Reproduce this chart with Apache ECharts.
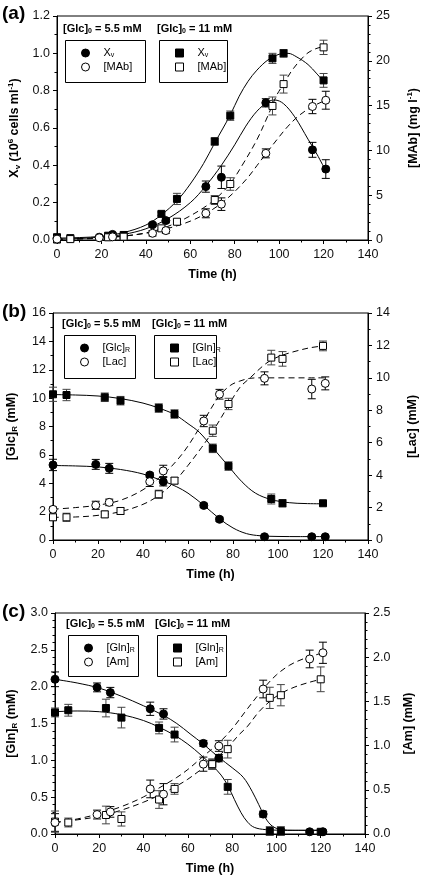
<!DOCTYPE html>
<html><head><meta charset="utf-8">
<script src="https://cdn.jsdelivr.net/npm/echarts/dist/echarts.min.js"></script>
<style>html,body{margin:0;padding:0;background:#fff}#c{width:422px;height:878px}</style>
</head><body><div id="c"></div>
<script>
// ---------- Panel (a) ----------
const tA55 = [0, 19, 25, 43, 49, 67, 74, 94, 115, 121];
const tA11 = [0, 6, 23, 30, 47, 54, 71, 78, 97, 102, 120];
const xv55 = [0.01, 0.015, 0.03, 0.082, 0.104, 0.286, 0.336, 0.735, 0.483, 0.38];
const xv55Err = [0.005, 0.005, 0.008, 0.01, 0.012, 0.03, 0.06, 0.022, 0.04, 0.05];
const xv11 = [0.015, 0.01, 0.023, 0.027, 0.14, 0.22, 0.528, 0.666, 0.973, 1.0, 0.855];
const xv11Err = [0.005, 0.005, 0.008, 0.008, 0.01, 0.03, 0.02, 0.025, 0.027, 0.02, 0.037];
const mab55 = [0.1, 0.25, 0.35, 0.75, 1.05, 2.98, 4.0, 9.67, 14.9, 15.6];
const mab55Err = [0.1, 0.2, 0.2, 0.3, 0.3, 0.5, 0.7, 0.5, 0.8, 1.0];
const mab11 = [0.05, 0.1, 0.3, 0.37, 1.3, 2.04, 4.46, 6.25, 14.96, 17.4, 21.5];
const mab11Err = [0.1, 0.1, 0.2, 0.2, 0.3, 0.3, 0.5, 0.7, 1.0, 1.0, 0.8];
const fitXv55 = [[0,0.005],[10,0.008],[20,0.016],[30,0.03],[40,0.06],[50,0.115],[60,0.2],[67,0.29],[74,0.4],[80,0.51],[85,0.61],[90,0.69],[95,0.74],[98,0.75],[102,0.73],[107,0.66],[113,0.54],[117,0.46],[121,0.37]];
const fitXv11 = [[0,0.01],[10,0.013],[20,0.02],[30,0.04],[40,0.08],[47,0.135],[54,0.21],[60,0.3],[66,0.41],[71,0.52],[78,0.67],[82,0.77],[86,0.85],[90,0.91],[95,0.965],[100,0.995],[104,1.0],[108,0.98],[113,0.94],[117,0.89],[120,0.85]];
const fitMab55 = [[0,0.1],[10,0.15],[20,0.27],[30,0.45],[40,0.75],[50,1.3],[60,2.1],[67,2.95],[74,4.1],[80,5.4],[86,7.0],[90,8.3],[94,9.6],[99,11.2],[104,12.7],[109,13.9],[115,14.9],[121,15.6]];
const fitMab11 = [[0,0.05],[10,0.1],[20,0.22],[30,0.42],[40,0.8],[47,1.25],[54,1.95],[60,2.7],[66,3.6],[71,4.5],[78,6.3],[84,8.6],[90,11.2],[95,13.9],[99,16.2],[102,17.4],[106,19.0],[112,20.7],[116,21.3],[120,21.6]];

// ---------- Panel (b) ----------
const tB55 = [0, 19, 25, 43, 49, 67, 74, 94, 115, 121];
const tB11 = [0, 6, 23, 30, 47, 54, 71, 78, 97, 102, 120];
const glc55 = [5.29, 5.33, 5.05, 4.58, 4.11, 2.44, 1.46, 0.23, 0.23, 0.23];
const glc55Err = [0.4, 0.35, 0.35, 0.15, 0.3, 0.15, 0.15, 0.1, 0.1, 0.1];
const glnB11 = [10.27, 10.22, 10.06, 9.82, 9.3, 8.88, 6.46, 5.21, 2.89, 2.59, 2.59];
const glnB11Err = [0.5, 0.4, 0.3, 0.3, 0.3, 0.3, 0.3, 0.3, 0.35, 0.25, 0.15];
const lac55 = [1.89, 2.14, 2.32, 3.6, 4.26, 7.34, 8.99, 9.97, 9.31, 9.66];
const lac55Err = [0.15, 0.25, 0.2, 0.3, 0.35, 0.35, 0.3, 0.4, 0.6, 0.4];
const lac11 = [1.4, 1.4, 1.58, 1.79, 2.82, 3.66, 6.74, 8.39, 11.25, 11.17, 11.97];
const lac11Err = [0.2, 0.25, 0.2, 0.2, 0.25, 0.2, 0.35, 0.35, 0.45, 0.45, 0.3];
const fitGlc55 = [[0,5.25],[10,5.22],[20,5.15],[30,4.97],[40,4.65],[49,4.15],[55,3.75],[60,3.3],[67,2.45],[74,1.5],[80,0.85],[86,0.45],[92,0.3],[100,0.25],[110,0.24],[121,0.24]];
const fitGlnB11 = [[0,10.25],[10,10.22],[20,10.15],[30,9.97],[40,9.65],[47,9.3],[54,8.85],[60,8.2],[65,7.6],[71,6.5],[78,5.2],[84,4.1],[90,3.3],[97,2.85],[105,2.63],[112,2.57],[120,2.55]];
const fitLac55 = [[0,1.9],[10,2.0],[20,2.15],[30,2.45],[40,3.1],[49,4.05],[55,4.9],[60,5.8],[67,7.35],[74,8.9],[79,9.55],[83,9.8],[87.5,9.97],[92,10.0],[121,10.0]];
const fitLac11 = [[0,1.4],[10,1.42],[20,1.52],[30,1.75],[40,2.2],[47,2.75],[54,3.6],[60,4.6],[66,5.7],[71,6.7],[78,8.3],[83,9.4],[88,10.05],[93,10.7],[97,11.1],[102,11.4],[108,11.65],[114,11.85],[120,11.97]];

// ---------- Panel (c) ----------
const tC55 = [0, 19, 25, 43, 49, 67, 74, 94, 115, 121];
const tC11 = [0, 6, 23, 30, 47, 54, 71, 78, 97, 102, 120];
const gln55 = [2.10, 1.99, 1.92, 1.70, 1.63, 1.23, 1.03, 0.27, 0.03, 0.03];
const gln55Err = [0.1, 0.06, 0.07, 0.09, 0.07, 0.04, 0.05, 0.04, 0.02, 0.02];
const glnC11 = [1.65, 1.68, 1.71, 1.58, 1.44, 1.35, 0.95, 0.64, 0.04, 0.04, 0.03];
const glnC11Err = [0.06, 0.08, 0.12, 0.14, 0.08, 0.1, 0.06, 0.1, 0.06, 0.06, 0.03];
const am55 = [0.13, 0.22, 0.25, 0.51, 0.45, 0.79, 0.995, 1.64, 1.98, 2.05];
const am55Err = [0.1, 0.05, 0.06, 0.1, 0.12, 0.08, 0.06, 0.1, 0.1, 0.12];
const am11 = [0.14, 0.13, 0.215, 0.17, 0.39, 0.51, 0.79, 0.96, 1.54, 1.57, 1.75];
const am11Err = [0.12, 0.05, 0.1, 0.08, 0.1, 0.06, 0.06, 0.1, 0.12, 0.12, 0.14];
const fitGln55 = [[0,2.1],[10,2.05],[20,1.98],[30,1.87],[40,1.74],[49,1.61],[55,1.5],[61,1.36],[67,1.22],[74,1.04],[80,0.9],[85,0.77],[89,0.58],[92,0.4],[95,0.22],[98,0.11],[102,0.06],[108,0.05],[121,0.05]];
const fitGlnC11 = [[0,1.66],[10,1.67],[20,1.66],[30,1.62],[40,1.54],[47,1.45],[54,1.34],[60,1.22],[66,1.07],[71,0.93],[75,0.8],[78,0.66],[81,0.47],[84,0.29],[87,0.16],[90,0.09],[95,0.06],[105,0.05],[121,0.05]];
const fitAm55 = [[0,0.13],[10,0.17],[20,0.23],[30,0.31],[40,0.42],[49,0.55],[55,0.64],[60,0.73],[67,0.88],[74,1.03],[80,1.19],[87,1.42],[94,1.64],[100,1.8],[106,1.91],[112,1.98],[117,2.02],[121,2.05]];
const fitAm11 = [[0,0.13],[10,0.16],[20,0.2],[30,0.27],[40,0.36],[47,0.44],[54,0.53],[60,0.62],[66,0.73],[71,0.82],[78,0.98],[83,1.12],[87,1.22],[92,1.38],[97,1.5],[102,1.59],[108,1.66],[114,1.71],[120,1.75]];

// ---------- Tick settings ----------
const xTicks = {min: 0, max: 140, interval: 20};
const yTicks = [
  {min: 0, max: 1.2, interval: 0.2, minor: 2, dec: 1},
  {min: 0, max: 25, interval: 5, minor: 5, dec: 0},
  {min: 0, max: 16, interval: 2, minor: 2, dec: 0},
  {min: 0, max: 14, interval: 2, minor: 2, dec: 0},
  {min: 0, max: 3, interval: 0.5, minor: 5, dec: 1},
  {min: 0, max: 2.5, interval: 0.5, minor: 5, dec: 1}
];

const FF = "'Liberation Sans', Arial, Helvetica, sans-serif";
const rich = {
  b: {fontWeight: 'bold', fontSize: 12.5, fontFamily: FF, color: '#000'},
  bs: {fontWeight: 'bold', fontSize: 8, fontFamily: FF, color: '#000', padding: [6, 0, 0, 0]},
  bp: {fontWeight: 'bold', fontSize: 8, fontFamily: FF, color: '#000', padding: [0, 0, 7, 0]},
  p: {width: 9, fontSize: 11, fontFamily: FF},
  n: {fontSize: 11, fontFamily: FF, color: '#000'},
  ns: {fontSize: 7, fontFamily: FF, color: '#000', padding: [5, 0, 0, 0]},
  t: {fontWeight: 'bold', fontSize: 11, fontFamily: FF, color: '#000'},
  ts: {fontWeight: 'bold', fontSize: 7, fontFamily: FF, color: '#000', padding: [5, 0, 0, 0]}
};

const yNames = [
  '{b|X}{bs|v}{b| (10}{bp|6}{b| cells ml}{bp|-1}{b|)}',
  '{b|[MAb] (mg l}{bp|-1}{b|)}',
  '{b|[Glc]}{bs|R}{b| (mM)}',
  '{b|[Lac] (mM)}',
  '{b|[Gln]}{bs|R}{b| (mM)}',
  '{b|[Am] (mM)}'
];

const grids = [
  {left: 57, top: 16, width: 311, height: 224},
  {left: 53, top: 313, width: 315, height: 227},
  {left: 55, top: 613, width: 310, height: 221}
];
const leftGap = [33, 34, 36];
const rightGap = [38, 38, 37];

const option = {
  animation: false,
  backgroundColor: '#fff',
  textStyle: {fontFamily: FF},
  grid: grids.map(g => Object.assign({show: true, borderColor: '#000', borderWidth: 1, containLabel: false, outerBoundsMode: 'none'}, g)),
  xAxis: [0, 1, 2].map(i => ({
    type: 'value', gridIndex: i, min: xTicks.min, max: xTicks.max, interval: xTicks.interval,
    name: 'Time (h)', nameLocation: 'middle', nameGap: 28,
    nameTextStyle: {fontWeight: 'bold', fontSize: 12.5, color: '#000', fontFamily: FF},
    axisLine: {onZero: false, lineStyle: {color: '#000', width: 1}},
    axisTick: {show: true, length: 4, lineStyle: {color: '#000'}},
    minorTick: {show: true, splitNumber: 2, length: 2.5, lineStyle: {color: '#000'}},
    axisLabel: {fontSize: 12.5, color: '#111', margin: 8, fontFamily: FF},
    splitLine: {show: false}
  })),
  yAxis: yTicks.map((y, i) => {
    const gi = Math.floor(i / 2), isRight = i % 2 === 1;
    return {
      type: 'value', gridIndex: gi, position: isRight ? 'right' : 'left',
      min: y.min, max: y.max, interval: y.interval,
      name: yNames[i], nameLocation: 'middle', nameRotate: 90,
      nameGap: isRight ? rightGap[gi] : leftGap[gi],
      nameTextStyle: {rich: rich},
      axisLine: {show: true, onZero: false, lineStyle: {color: '#000', width: 1}},
      axisTick: {show: true, length: 4, lineStyle: {color: '#000'}},
      minorTick: {show: true, splitNumber: y.minor, length: 2.5, lineStyle: {color: '#000'}},
      axisLabel: {fontSize: 12.5, color: '#111', margin: isRight ? 8 : 7, fontFamily: FF,
        formatter: v => v.toFixed(y.dec)},
      splitLine: {show: false}
    };
  }),
  title: [],
  legend: [],
  graphic: [],
  series: []
};

// panel labels
[['(a)', 4], ['(b)', 302], ['(c)', 602]].forEach(([txt, top]) => {
  option.title.push({text: txt, left: 2, top: top, padding: 0,
    textStyle: {fontSize: 19, fontWeight: 'bold', color: '#000', fontFamily: FF}});
});

// legend boxes
const labelMap = {
  a55_xv: '{p| }{n|X}{ns|v}', a55_mab: '{p| }{n|[MAb]}', a11_xv: '{p| }{n|X}{ns|v}', a11_mab: '{p| }{n|[MAb]}',
  b55_glc: '{p| }{n|[Glc]}{ns|R}', b55_lac: '{p| }{n|[Lac]}', b11_gln: '{p| }{n|[Gln]}{ns|R}', b11_lac: '{p| }{n|[Lac]}',
  c55_gln: '{p| }{n|[Gln]}{ns|R}', c55_am: '{p| }{n|[Am]}', c11_gln: '{p| }{n|[Gln]}{ns|R}', c11_am: '{p| }{n|[Am]}'
};
const boxes = [
  {x: 63, y: 38, w: 80, h: 42, names: ['a55_xv', 'a55_mab'], title: '{t|[Glc]}{ts|0}{t| = 5.5 mM}'},
  {x: 157, y: 38, w: 68, h: 42, names: ['a11_xv', 'a11_mab'], title: '{t|[Glc]}{ts|0}{t| = 11 mM}'},
  {x: 62, y: 333, w: 71, h: 43, names: ['b55_glc', 'b55_lac'], title: '{t|[Glc]}{ts|0}{t| = 5.5 mM}'},
  {x: 152, y: 333, w: 62, h: 43, names: ['b11_gln', 'b11_lac'], title: '{t|[Glc]}{ts|0}{t| = 11 mM}'},
  {x: 66, y: 633, w: 70, h: 41, names: ['c55_gln', 'c55_am'], title: '{t|[Glc]}{ts|0}{t| = 5.5 mM}'},
  {x: 155, y: 633, w: 69, h: 41, names: ['c11_gln', 'c11_am'], title: '{t|[Glc]}{ts|0}{t| = 11 mM}'}
];
boxes.forEach(b => {
  option.graphic.push({type: 'rect', left: b.x, top: b.y, shape: {width: b.w, height: b.h},
    style: {fill: 'none', stroke: '#000', lineWidth: 1}, z: 100});
  option.title.push({text: b.title, left: b.x, top: b.y - 15, padding: 0,
    textStyle: {rich: rich}});
  option.legend.push({
    data: b.names, orient: 'vertical', left: b.x, top: b.y,
    padding: [9, 4, 6, 18], itemWidth: 8, itemHeight: 8, itemGap: 2,
    selectedMode: false, formatter: n => labelMap[n],
    itemStyle: {borderWidth: 1, borderColor: '#000'},
    textStyle: {fontSize: 11, lineHeight: 12, color: '#000', rich: rich}
  });
});

function addCurve(fit, gi, yi, dashed) {
  option.series.push({type: 'line', xAxisIndex: gi, yAxisIndex: yi, data: fit,
    smooth: 0.35, showSymbol: false, symbol: 'none', silent: true, z: 2,
    lineStyle: {color: '#000', width: 1, type: dashed ? [6, 4] : 'solid'}});
}
function addErr(t, v, e, gi, yi, color) {
  option.series.push({type: 'custom', xAxisIndex: gi, yAxisIndex: yi, silent: true, z: 3,
    data: t.map((x, i) => [x, v[i] - e[i], v[i] + e[i]]),
    encode: {x: 0, y: [1, 2]},
    renderItem: (params, api) => {
      const x = api.value(0);
      const lo = api.coord([x, api.value(1)]);
      const hi = api.coord([x, api.value(2)]);
      const w = 4, st = {stroke: color, lineWidth: 1};
      return {type: 'group', children: [
        {type: 'line', shape: {x1: lo[0], y1: lo[1], x2: hi[0], y2: hi[1]}, style: st},
        {type: 'line', shape: {x1: lo[0] - w, y1: lo[1], x2: lo[0] + w, y2: lo[1]}, style: st},
        {type: 'line', shape: {x1: hi[0] - w, y1: hi[1], x2: hi[0] + w, y2: hi[1]}, style: st}
      ]};
    }});
}
function addPts(name, t, v, gi, yi, shape, filled) {
  option.series.push({type: 'scatter', name: name, xAxisIndex: gi, yAxisIndex: yi, z: 4,
    data: t.map((x, i) => [x, v[i]]),
    symbol: shape === 'c' ? 'circle' : 'rect', symbolSize: shape === 'c' ? 8 : 7,
    itemStyle: {color: filled ? '#000' : '#fff', borderColor: '#000', borderWidth: 1, opacity: 1}});
}

// (a)
addCurve(fitXv55, 0, 0, false); addCurve(fitXv11, 0, 0, false);
addCurve(fitMab55, 0, 1, true); addCurve(fitMab11, 0, 1, true);
addErr(tA55, xv55, xv55Err, 0, 0, '#000'); addErr(tA11, xv11, xv11Err, 0, 0, '#444');
addErr(tA55, mab55, mab55Err, 0, 1, '#000'); addErr(tA11, mab11, mab11Err, 0, 1, '#444');
addPts('a11_xv', tA11, xv11, 0, 0, 's', true);
addPts('a55_xv', tA55, xv55, 0, 0, 'c', true);
addPts('a11_mab', tA11, mab11, 0, 1, 's', false);
addPts('a55_mab', tA55, mab55, 0, 1, 'c', false);
// (b)
addCurve(fitGlc55, 1, 2, false); addCurve(fitGlnB11, 1, 2, false);
addCurve(fitLac55, 1, 3, true); addCurve(fitLac11, 1, 3, true);
addErr(tB55, glc55, glc55Err, 1, 2, '#000'); addErr(tB11, glnB11, glnB11Err, 1, 2, '#444');
addErr(tB55, lac55, lac55Err, 1, 3, '#000'); addErr(tB11, lac11, lac11Err, 1, 3, '#444');
addPts('b11_gln', tB11, glnB11, 1, 2, 's', true);
addPts('b55_glc', tB55, glc55, 1, 2, 'c', true);
addPts('b11_lac', tB11, lac11, 1, 3, 's', false);
addPts('b55_lac', tB55, lac55, 1, 3, 'c', false);
// (c)
addCurve(fitGln55, 2, 4, false); addCurve(fitGlnC11, 2, 4, false);
addCurve(fitAm55, 2, 5, true); addCurve(fitAm11, 2, 5, true);
addErr(tC55, gln55, gln55Err, 2, 4, '#000'); addErr(tC11, glnC11, glnC11Err, 2, 4, '#444');
addErr(tC55, am55, am55Err, 2, 5, '#000'); addErr(tC11, am11, am11Err, 2, 5, '#444');
addPts('c11_gln', tC11, glnC11, 2, 4, 's', true);
addPts('c55_gln', tC55, gln55, 2, 4, 'c', true);
addPts('c11_am', tC11, am11, 2, 5, 's', false);
addPts('c55_am', tC55, am55, 2, 5, 'c', false);

const chart = echarts.init(document.getElementById('c'), null, {renderer: 'canvas'});
chart.setOption(option);
</script></body></html>
